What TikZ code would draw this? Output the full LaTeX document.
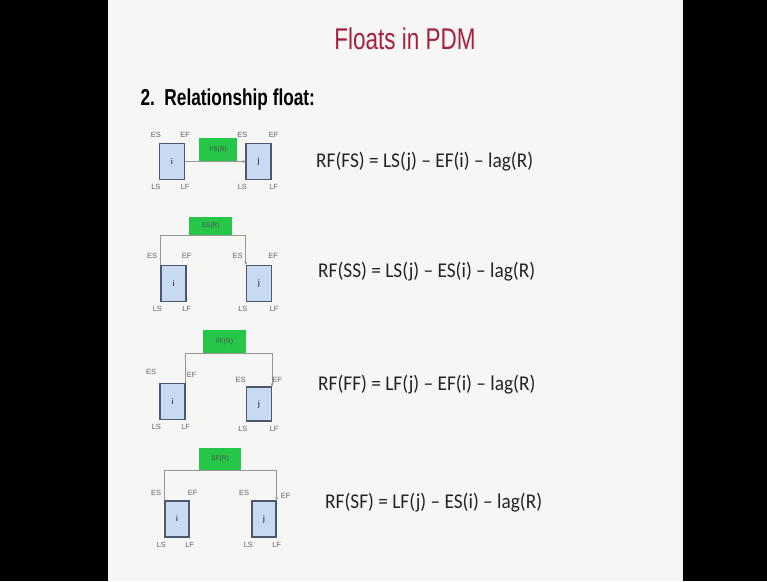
\documentclass[tikz,border=0pt]{standalone}
\usepackage{fontspec}
\setmainfont{Liberation Sans}
\newfontfamily\titlefont{Liberation Sans}[FakeStretch=0.75]
\newfontfamily\eqfont{Carlito}[FakeStretch=0.92]
\usetikzlibrary{positioning,arrows.meta}
\definecolor{slidebg}{RGB}{246,246,244}
\definecolor{titlered}{RGB}{165,32,62}
\definecolor{actfill}{RGB}{200,218,242}
\definecolor{actline}{RGB}{78,88,108}
\definecolor{lagfill}{RGB}{38,198,72}
\definecolor{linkgray}{RGB}{150,150,150}
\definecolor{lblgray}{RGB}{100,100,100}
\definecolor{eqgray}{RGB}{35,35,35}

\begin{document}
\begin{tikzpicture}[x=1pt, y=-1pt,
    act/.style={draw=actline, line width=1.3pt, fill=actfill, minimum width=25pt,
                minimum height=36pt, inner sep=0pt, font=\fontsize{8}{9}\selectfont},
    lag/.style={fill=lagfill, minimum width=42pt, minimum height=21pt, inner sep=0pt,
                text=black!70, font=\fontsize{6.5}{7}\selectfont},
    lbl/.style={text=lblgray, inner sep=0pt, font=\fontsize{7.5}{8}\selectfont},
    link/.style={draw=linkgray, line width=1pt, -{Stealth[length=3pt,width=3pt]}},
    eq/.style={anchor=west, text=eqgray, inner sep=0pt, font=\eqfont\fontsize{21}{24}\selectfont}]
    \useasboundingbox (0,0) rectangle (767,581);
    \fill[black] (0,0) rectangle (767,581);
    \fill[slidebg] (108,0) rectangle (683,581);

    % Heading
    \node[text=titlered, font=\titlefont\fontsize{30}{34}\selectfont] (title) at (405,39) {Floats in PDM};
    \node[anchor=west, font=\titlefont\bfseries\fontsize{23}{27}\selectfont] (sub) at (137,100) {2.\ \ Relationship float:};

    % FS link
    \node[act] (i1) at (172,161.5) {i};
    \node[act] (j1) at (258.5,161.5) {j};
    \node[lag, minimum width=38pt, minimum height=24pt] (g1) at (218,150) {FS(R)};
    \draw[link] (i1) -- (j1);
    \node[lbl, above=5pt of i1.north west, xshift=-3pt] {ES};
    \node[lbl, above=5pt of i1.north east] {EF};
    \node[lbl, above=5pt of j1.north west, xshift=-3pt] {ES};
    \node[lbl, above=5pt of j1.north east, xshift=2pt] {EF};
    \node[lbl, below=4pt of i1.south west, xshift=-3pt] {LS};
    \node[lbl, below=4pt of i1.south east] {LF};
    \node[lbl, below=4pt of j1.south west, xshift=-3pt] {LS};
    \node[lbl, below=4pt of j1.south east, xshift=2pt] {LF};
    \node[eq] (rf1) at (316,162) {RF(FS) = LS(j) – EF(i) – lag(R)};

    % SS link
    \node[act] (i2) at (173.5,283.5) {i};
    \node[act] (j2) at (259,283.5) {j};
    \node[lag, minimum width=43pt, minimum height=18pt] (g2) at (210.5,226) {SS(R)};
    \draw[link] (i2.north west) -- (i2.north west |- g2.south) -- (j2.north west |- g2.south) -- (j2.north west);
    \node[lbl, above left=6pt and 3pt of i2.north west] {ES};
    \node[lbl, above=6pt of i2.north east] {EF};
    \node[lbl, above left=6pt and 3pt of j2.north west] {ES};
    \node[lbl, above=6pt of j2.north east, xshift=1pt] {EF};
    \node[lbl, below=4pt of i2.south west, xshift=-3pt] {LS};
    \node[lbl, below=4pt of i2.south east] {LF};
    \node[lbl, below=4pt of j2.south west, xshift=-3pt] {LS};
    \node[lbl, below=4pt of j2.south east, xshift=2pt] {LF};
    \node[eq] (rf2) at (318,272) {RF(SS) = LS(j) – ES(i) – lag(R)};

    % FF link
    \node[act] (i3) at (172.5,401.5) {i};
    \node[act, minimum height=34pt] (j3) at (259,404) {j};
    \node[lag, minimum width=43pt, minimum height=23pt] (g3) at (224.5,341.5) {FF(R)};
    \draw[link] (i3.north east) -- (i3.north east |- g3.south) -- (j3.north east |- g3.south) -- (j3.north east);
    \node[lbl, above left=8pt and 3pt of i3.north west] {ES};
    \node[lbl, above right=5pt and 1pt of i3.north east] {EF};
    \node[lbl, above left=4pt and 0pt of j3.north west] {ES};
    \node[lbl, above right=4pt and 0pt of j3.north east] {EF};
    \node[lbl, below=4pt of i3.south west, xshift=-3pt] {LS};
    \node[lbl, below=4pt of i3.south east] {LF};
    \node[lbl, below=4pt of j3.south west, xshift=-3pt] {LS};
    \node[lbl, below=4pt of j3.south east, xshift=2pt] {LF};
    \node[eq] (rf3) at (318,385) {RF(FF) = LF(j) – EF(i) – lag(R)};

    % SF link
    \node[act, minimum width=24pt] (i4) at (177,519) {i};
    \node[act, minimum width=24pt] (j4) at (264,519) {j};
    \node[lag, minimum width=42pt, minimum height=22pt] (g4) at (220,459) {SF(R)};
    \draw[link] (i4.north west) -- (i4.north west |- g4.south) -- (j4.north east |- g4.south) -- (j4.north east);
    \node[lbl, above left=5pt and 3pt of i4.north west] {ES};
    \node[lbl, above=5pt of i4.north east, xshift=3pt] {EF};
    \node[lbl, above left=5pt and 2pt of j4.north west] {ES};
    \node[lbl, right=4pt of j4.north east, yshift=4pt] {EF};
    \node[lbl, below=4pt of i4.south west, xshift=-3pt] {LS};
    \node[lbl, below=4pt of i4.south east] {LF};
    \node[lbl, below=4pt of j4.south west, xshift=-3pt] {LS};
    \node[lbl, below=4pt of j4.south east] {LF};
    \node[eq] (rf4) at (325,503) {RF(SF) = LF(j) – ES(i) – lag(R)};
\end{tikzpicture}
\end{document}
